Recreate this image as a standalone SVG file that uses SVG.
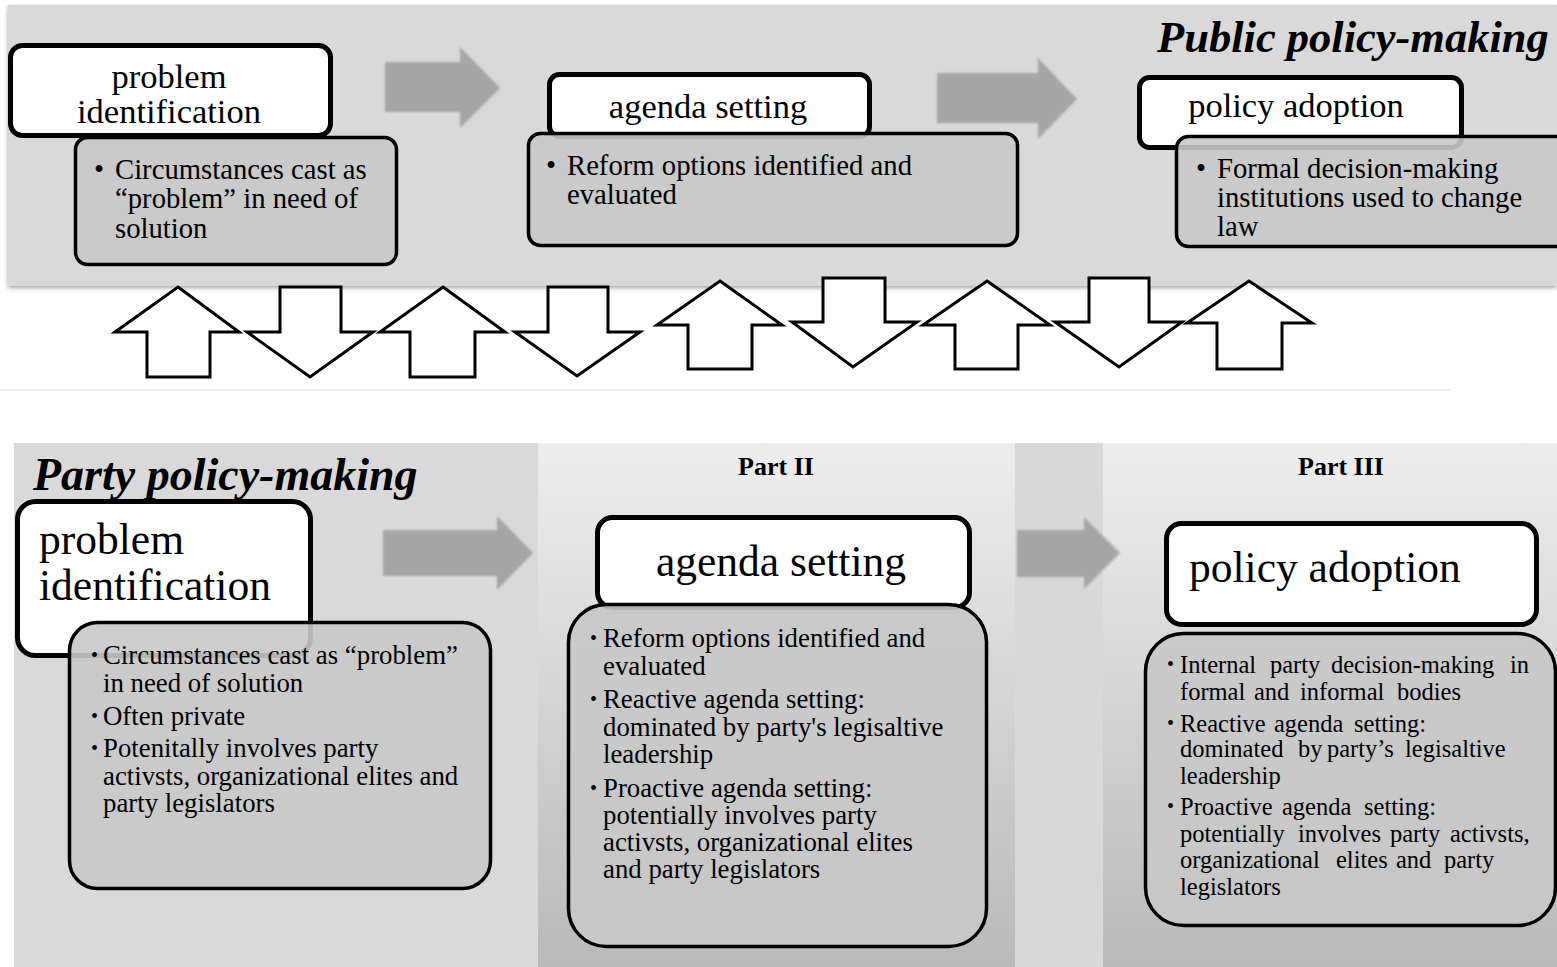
<svg xmlns="http://www.w3.org/2000/svg" width="1557" height="967" viewBox="0 0 1557 967">
<defs>
<style>
text{font-family:"Liberation Serif","Times New Roman",serif;fill:#000}
.hd{font-size:34.5px}
.hdb{font-size:43.5px}
.tt{font-size:44.5px;font-weight:bold;font-style:italic}
.pt{font-size:26px;font-weight:bold}
.bt{font-size:28.7px}
.bb{font-size:26.8px}
.b3{font-size:24.5px}
.sb{font-size:20px}
.wb{fill:#fff;stroke:#000;stroke-width:5}
.gb{fill:#c8c8c8;fill-opacity:0.9;stroke:#000;stroke-width:3.5}
.ga{fill:#a6a6a6}
.ud{fill:#fff;stroke:#000;stroke-width:3;stroke-linejoin:miter}
</style>
<linearGradient id="pg" x1="0" y1="0" x2="0" y2="1">
<stop offset="0" stop-color="#eeeeee"/>
<stop offset="1" stop-color="#b9b9b9"/>
</linearGradient>
<filter id="sh" x="-5%" y="-5%" width="110%" height="115%">
<feDropShadow dx="0" dy="2" stdDeviation="2" flood-color="#000" flood-opacity="0.35"/>
</filter>
<filter id="sa" x="-10%" y="-10%" width="120%" height="130%">
<feGaussianBlur stdDeviation="1"/>
</filter>
</defs>

<rect width="1557" height="967" fill="#fff"/>

<g id="panels">
<rect x="8" y="5" width="1549" height="281" fill="#d9d9d9" filter="url(#sh)"/>
<rect x="0" y="389" width="1450" height="2" fill="#f0f0f0"/>
<rect x="14" y="443" width="525" height="524" fill="#d9d9d9"/>
<rect x="538" y="443" width="477" height="524" fill="url(#pg)"/>
<rect x="1015" y="443" width="88" height="524" fill="#d8d8d8"/>
<rect x="1103" y="443" width="454" height="524" fill="url(#pg)"/>
</g>

<g id="titles">
<text class="tt" x="1157" y="52">Public policy-making</text>
<text class="tt" x="33" y="490" style="font-size:46px">Party policy-making</text>
<text class="pt" x="776" y="475" text-anchor="middle">Part II</text>
<text class="pt" x="1341" y="475" text-anchor="middle">Part III</text>
</g>

<g id="connectors">
<polygon class="ga" filter="url(#sa)" points="385,62 460,62 460,47 500,88 460,128 460,112 385,112"/>
<polygon class="ga" filter="url(#sa)" points="937,73 1038,73 1038,58 1077,99 1038,139 1038,123 937,123"/>
<polygon class="ga" filter="url(#sa)" points="383,530 497,530 497,516 533,553 497,590 497,576 383,576"/>
<polygon class="ga" filter="url(#sa)" points="1017,530 1084,530 1084,517 1120,553 1084,589 1084,577 1017,577"/>
<polygon class="ud" points="178,287 239,332 210,332 210,377 147,377 147,332 115,332"/>
<polygon class="ud" points="280,287 341,287 341,332 373,332 310,377 247,332 280,332"/>
<polygon class="ud" points="443,287 505,332 475,332 475,377 410,377 410,332 380,332"/>
<polygon class="ud" points="548,287 608,287 608,332 640,332 577,376 515,332 548,332"/>
<polygon class="ud" points="720,281 782,325 752,325 752,369 688,369 688,325 657,325"/>
<polygon class="ud" points="823,278 885,278 885,322 917,322 853,367 792,322 823,322"/>
<polygon class="ud" points="987,281 1050,325 1018,325 1018,369 955,369 955,325 923,325"/>
<polygon class="ud" points="1089,278 1149,278 1149,322 1182,322 1119,367 1055,322 1089,322"/>
<polygon class="ud" points="1249,281 1312,323 1282,323 1282,369 1217,369 1217,323 1187,323"/>
</g>

<g id="pub-problem">
<rect class="wb" x="10.5" y="45.5" width="320" height="90" rx="12"/>
<text class="hd" x="169" y="88" text-anchor="middle">problem</text>
<text class="hd" x="169" y="123" text-anchor="middle">identification</text>
<rect class="gb" x="75.5" y="137.5" width="321" height="127" rx="12"/>
<text class="bt" x="94" y="179">•</text>
<text class="bt" x="115" y="179">Circumstances cast as</text>
<text class="bt" x="115" y="208">“problem” in need of</text>
<text class="bt" x="115" y="238">solution</text>
</g>

<g id="pub-agenda">
<rect class="wb" x="549.5" y="74.5" width="320" height="62" rx="10"/>
<text class="hd" x="708" y="118" text-anchor="middle">agenda setting</text>
<rect class="gb" x="528.5" y="133.5" width="489" height="112" rx="12"/>
<text class="bt" x="546" y="175">•</text>
<text class="bt" x="567" y="175">Reform options identified and</text>
<text class="bt" x="567" y="204">evaluated</text>
</g>

<g id="pub-adoption">
<rect class="wb" x="1139.5" y="77.5" width="322" height="70" rx="10"/>
<text class="hd" x="1296" y="117" text-anchor="middle">policy adoption</text>
<rect class="gb" x="1176.5" y="136.5" width="400" height="110" rx="12"/>
<text class="bt" x="1196" y="178">•</text>
<text class="bt" x="1217" y="178">Formal decision-making</text>
<text class="bt" x="1217" y="207">institutions used to change</text>
<text class="bt" x="1217" y="236">law</text>
</g>

<g id="party-problem">
<rect class="wb" x="17.5" y="501.5" width="293" height="154" rx="18"/>
<text class="hdb" x="39" y="554">problem</text>
<text class="hdb" x="39" y="600">identification</text>
<rect class="gb" x="69.5" y="622.5" width="421" height="266" rx="28"/>
<text class="sb" x="91" y="662">•</text>
<text class="bb" x="103" y="664">Circumstances cast as “problem”</text>
<text class="bb" x="103" y="692">in need of solution</text>
<text class="sb" x="91" y="723">•</text>
<text class="bb" x="103" y="725">Often private</text>
<text class="sb" x="91" y="755">•</text>
<text class="bb" x="103" y="757">Potenitally involves party</text>
<text class="bb" x="103" y="785">activsts, organizational elites and</text>
<text class="bb" x="103" y="812">party legislators</text>
</g>

<g id="party-agenda">
<rect class="wb" x="597.5" y="517.5" width="372" height="90" rx="15"/>
<text class="hdb" x="781" y="576" text-anchor="middle">agenda setting</text>
<rect class="gb" x="568.5" y="604.5" width="418" height="342" rx="38"/>
<text class="sb" x="590" y="645">•</text>
<text class="bb" x="603" y="647">Reform options identified and</text>
<text class="bb" x="603" y="675">evaluated</text>
<text class="sb" x="590" y="706">•</text>
<text class="bb" x="603" y="708">Reactive agenda setting:</text>
<text class="bb" x="603" y="736">dominated by party's legisaltive</text>
<text class="bb" x="603" y="763">leadership</text>
<text class="sb" x="590" y="795">•</text>
<text class="bb" x="603" y="797">Proactive agenda setting:</text>
<text class="bb" x="603" y="824">potentially involves party</text>
<text class="bb" x="603" y="851">activsts, organizational elites</text>
<text class="bb" x="603" y="878">and party legislators</text>
</g>

<g id="party-adoption">
<rect class="wb" x="1166.5" y="523.5" width="370" height="101" rx="15"/>
<text class="hdb" x="1189" y="582">policy adoption</text>
<rect class="gb" x="1145.5" y="633.5" width="410" height="292" rx="38"/>
<text class="sb" x="1167" y="671">•</text>
<text class="b3" y="673"><tspan x="1180">Internal</tspan><tspan x="1270">party</tspan><tspan x="1331">decision-making</tspan><tspan x="1510">in</tspan></text>
<text class="b3" y="700"><tspan x="1180">formal</tspan><tspan x="1254">and</tspan><tspan x="1300">informal</tspan><tspan x="1397">bodies</tspan></text>
<text class="sb" x="1167" y="730">•</text>
<text class="b3" y="732"><tspan x="1180">Reactive</tspan><tspan x="1274">agenda</tspan><tspan x="1354">setting:</tspan></text>
<text class="b3" y="757"><tspan x="1180">dominated</tspan><tspan x="1298">by</tspan><tspan x="1327">party’s</tspan><tspan x="1405">legisaltive</tspan></text>
<text class="b3" x="1180" y="784">leadership</text>
<text class="sb" x="1167" y="813">•</text>
<text class="b3" y="815"><tspan x="1180">Proactive</tspan><tspan x="1282">agenda</tspan><tspan x="1364">setting:</tspan></text>
<text class="b3" y="842"><tspan x="1180">potentially</tspan><tspan x="1298">involves</tspan><tspan x="1390">party</tspan><tspan x="1450">activsts,</tspan></text>
<text class="b3" y="868"><tspan x="1180">organizational</tspan><tspan x="1336">elites</tspan><tspan x="1396">and</tspan><tspan x="1444">party</tspan></text>
<text class="b3" x="1180" y="895">legislators</text>
</g>
</svg>
